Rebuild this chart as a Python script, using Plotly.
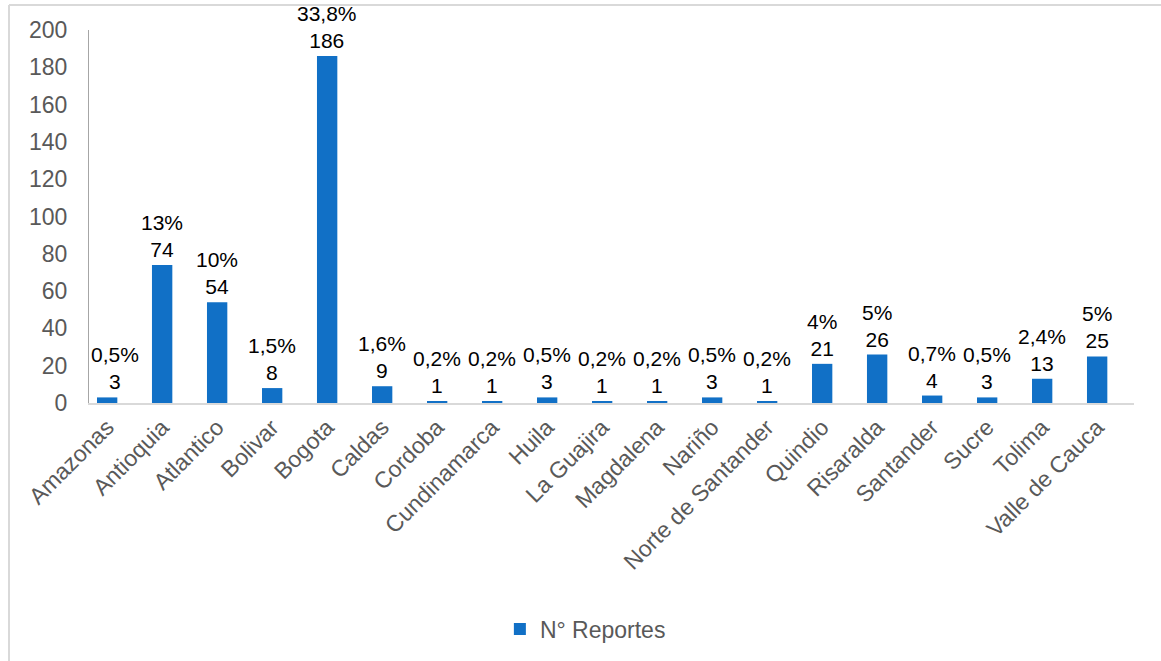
import plotly.graph_objects as go

departamentos = ["Amazonas", "Antioquia", "Atlantico", "Bolivar", "Bogota", "Caldas",
                 "Cordoba", "Cundinamarca", "Huila", "La Guajira", "Magdalena", "Nariño",
                 "Norte de Santander", "Quindio", "Risaralda", "Santander", "Sucre",
                 "Tolima", "Valle de Cauca"]
reportes = [3, 74, 54, 8, 186, 9, 1, 1, 3, 1, 1, 3, 1, 21, 26, 4, 3, 13, 25]
porcentajes = ["0,5%", "13%", "10%", "1,5%", "33,8%", "1,6%", "0,2%", "0,2%", "0,5%",
               "0,2%", "0,2%", "0,5%", "0,2%", "4%", "5%", "0,7%", "0,5%", "2,4%", "5%"]
y_ticks = list(range(0, 201, 20))

W, H = 1161, 661
L, R, T, B = 89, 27, 30, 257
FONT = "Liberation Sans, Arial"

fig = go.Figure(go.Bar(
    x=departamentos,
    y=reportes,
    name="N° Reportes",
    marker=dict(color="#1170C6", line=dict(width=0)),
    cliponaxis=False,
))

# Percentage and count labels stacked above each bar; the first one is nudged
# right so it stays clear of the value axis line.
for i, (d, v, p) in enumerate(zip(departamentos, reportes, porcentajes)):
    fig.add_annotation(
        x=d, y=v, xref="x", yref="y",
        text=f"{p}<br>{v}", showarrow=False,
        yanchor="bottom", xanchor="center", yshift=2,
        xshift=8 if i == 0 else 0,
        font=dict(family=FONT, size=21, color="#000000"),
    )

pw = W - L - R
ph = H - T - B
def px_x(p):
    return (p - L) / pw
def px_y(p):
    return (H - B - p) / ph

fig.update_layout(
    width=W, height=H,
    margin=dict(l=L, r=R, t=T, b=B),
    paper_bgcolor="white", plot_bgcolor="white",
    bargap=0.63,
    font=dict(family=FONT, color="#595959", size=23),
    xaxis=dict(
        range=[-0.33, len(departamentos) - 0.33],
        showline=True, linecolor="#D9D9D9", linewidth=1.5,
        ticks="", tickangle=-45, tickfont=dict(size=23, color="#595959"),
        showgrid=False,
    ),
    yaxis=dict(
        range=[0, 200], tickvals=y_ticks, showgrid=False, zeroline=False,
        showline=True, linecolor="#A6A6A6", linewidth=1,
        ticks="", tickfont=dict(size=23, color="#595959"), ticklabelstandoff=16,
    ),
    showlegend=True,
    legend=dict(
        orientation="h", x=0.475, xanchor="center", y=px_y(629), yanchor="middle",
        font=dict(size=23, color="#595959"), itemwidth=30,
    ),
    shapes=[
        dict(type="line", xref="paper", yref="paper",
             x0=px_x(9), x1=px_x(9), y0=px_y(5), y1=px_y(665),
             line=dict(color="#D9D9D9", width=2)),
        dict(type="line", xref="paper", yref="paper",
             x0=px_x(9), x1=px_x(1165), y0=px_y(5), y1=px_y(5),
             line=dict(color="#D9D9D9", width=2)),
    ],
)

fig.write_html("out.html")
